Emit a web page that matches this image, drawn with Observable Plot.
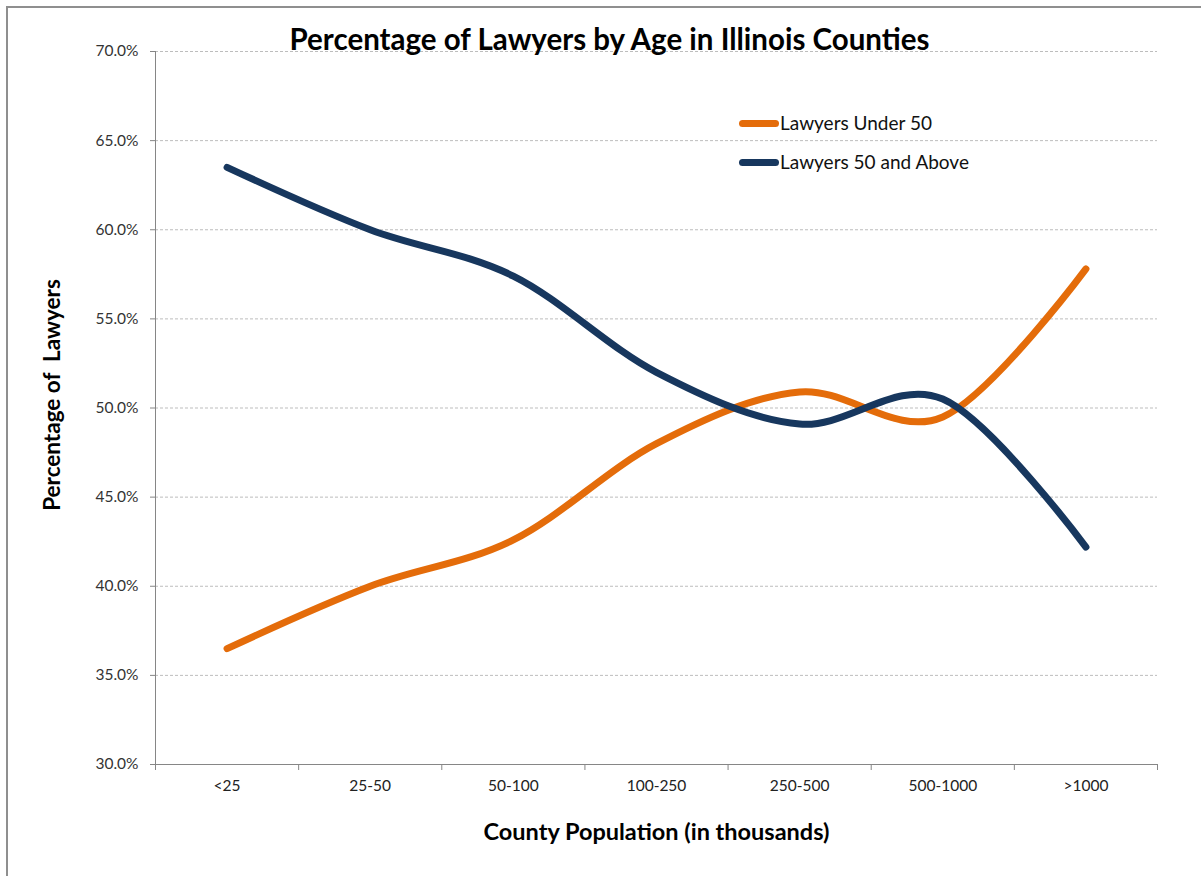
<!DOCTYPE html>
<html>
<head>
<meta charset="utf-8">
<script src="https://cdn.jsdelivr.net/npm/d3@7"></script>
<script src="https://cdn.jsdelivr.net/npm/@observablehq/plot@0.6"></script>
<style>
  html, body { margin: 0; padding: 0; background: #fff; }
  #wrap { position: relative; width: 1201px; height: 876px; overflow: hidden; font-family: Lato, "Open Sans", sans-serif; }
  #border { position: absolute; left: 6px; top: 6px; width: 1300px; height: 1000px; border-left: 2px solid #8f8f8f; border-top: 2px solid #8f8f8f; box-sizing: border-box; pointer-events: none; }
  .leg { position: absolute; display: flex; align-items: center; font-size: 19px; color: #111; line-height: 22px; }
  .leg .sw { width: 40px; height: 7px; border-radius: 4px; margin-right: 1px; }
</style>
</head>
<body>
<div id="wrap">
  <div id="chart"></div>
  <div id="border"></div>
  <div class="leg" style="left:739px; top:112px;"><div class="sw" style="background:#E46C0A"></div>Lawyers Under 50</div>
  <div class="leg" style="left:739px; top:151px;"><div class="sw" style="background:#17375E"></div>Lawyers 50 and Above</div>
</div>
<script>
const categories = ["<25", "25-50", "50-100", "100-250", "250-500", "500-1000", ">1000"];
const under50 = [36.5, 40.0, 42.6, 48.0, 50.9, 49.5, 57.8];
const above50 = [63.5, 60.0, 57.4, 52.0, 49.1, 50.5, 42.2];
const yTicks = [30, 35, 40, 45, 50, 55, 60, 65, 70];
const seriesNames = ["Lawyers Under 50", "Lawyers 50 and Above"];
const seriesColors = ["#E46C0A", "#17375E"];

const rows = [];
categories.forEach((c, i) => {
  rows.push({i, cat: c, series: seriesNames[0], value: under50[i]});
  rows.push({i, cat: c, series: seriesNames[1], value: above50[i]});
});
const boundaries = d3.range(categories.length + 1).map(k => k - 0.5);
const centers = d3.range(categories.length);

const axisColor = "#868686";
const marks = [
  Plot.gridY(yTicks.filter(t => t > 30), {stroke: "#bdbdbd", strokeOpacity: 1, strokeDasharray: "3,2"}),
  Plot.axisY(yTicks, {tickSize: 5, stroke: axisColor, tickFormat: () => "", label: null}),
  Plot.text(yTicks, {x: -0.5, y: d => d, text: d => d.toFixed(1) + "%", textAnchor: "end", dx: -17, fontSize: 15.5, fill: "#333"}),
  Plot.axisX(boundaries, {tickSize: 6, tickFormat: () => "", stroke: axisColor, label: null}),
  Plot.text(centers, {x: d => d, y: 30, text: d => categories[d], dy: 22, fontSize: 15.5, fill: "#222"}),
  Plot.ruleX([-0.5], {stroke: axisColor, strokeWidth: 1}),
  Plot.ruleY([30], {stroke: axisColor, strokeWidth: 1}),
  Plot.line(rows, {x: "i", y: "value", z: "series", stroke: "series", strokeWidth: 7, curve: "cardinal", strokeLinecap: "round"}),
  Plot.text(["Percentage of Lawyers by Age in Illinois Counties"], {frameAnchor: "top", lineAnchor: "middle", dx: -47, dy: -11, fontSize: 29.5, fontWeight: "bold", fill: "#000"}),
  Plot.text(["Percentage of  Lawyers"], {frameAnchor: "left", textAnchor: "middle", lineAnchor: "middle", dx: -103, dy: -13, rotate: -90, fontSize: 22.5, fontWeight: "bold", fill: "#000"}),
  Plot.text(["County Population (in thousands)"], {frameAnchor: "bottom", lineAnchor: "middle", dy: 68, fontSize: 23.5, fontWeight: "bold", fill: "#000"})
];

const chart = Plot.plot({
  width: 1201,
  height: 876,
  marginLeft: 155,
  marginRight: 44,
  marginTop: 51,
  marginBottom: 112,
  style: {fontFamily: "Lato, 'Open Sans', sans-serif", background: "transparent", overflow: "visible"},
  x: {type: "linear", domain: [-0.5, categories.length - 0.5], axis: null},
  y: {domain: [30, 70], axis: null},
  color: {domain: seriesNames, range: seriesColors},
  marks
});
document.getElementById("chart").appendChild(chart);
</script>
</body>
</html>
